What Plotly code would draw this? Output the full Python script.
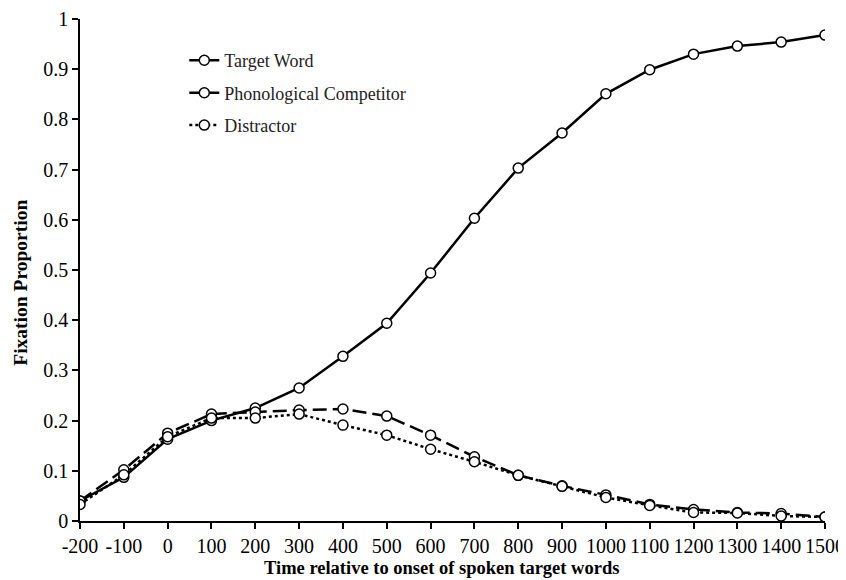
import plotly.graph_objects as go

time_ms = [-200, -100, 0, 100, 200, 300, 400, 500, 600, 700, 800, 900, 1000, 1100, 1200, 1300, 1400, 1500]
target_word = [0.040, 0.087, 0.163, 0.200, 0.225, 0.265, 0.328, 0.394, 0.494, 0.603, 0.703, 0.773, 0.851, 0.899, 0.930, 0.946, 0.954, 0.968]
phon_competitor = [0.040, 0.102, 0.175, 0.213, 0.217, 0.221, 0.223, 0.209, 0.171, 0.128, 0.091, 0.070, 0.052, 0.033, 0.023, 0.017, 0.015, 0.008]
distractor = [0.033, 0.092, 0.168, 0.205, 0.205, 0.213, 0.191, 0.171, 0.143, 0.118, 0.091, 0.069, 0.047, 0.031, 0.017, 0.016, 0.010, 0.008]

series_names = ["Target Word", "Phonological Competitor", "Distractor"]
x_ticks = list(range(-200, 1501, 100))
y_ticks = [0, 0.1, 0.2, 0.3, 0.4, 0.5, 0.6, 0.7, 0.8, 0.9, 1]
y_tick_text = ["0", "0.1", "0.2", "0.3", "0.4", "0.5", "0.6", "0.7", "0.8", "0.9", "1"]
x_title = "Time relative to onset of spoken target words"
y_title = "Fixation Proportion"

FONT = "Liberation Serif"
marker = dict(symbol="circle", size=10, color="white", line=dict(color="black", width=1.5))

fig = go.Figure()
for name, vals, dash, g in zip(series_names, [target_word, phon_competitor, distractor],
                               ["solid", "14px,6px", "dot"], ["a", "b", "c"]):
    fig.add_trace(go.Scatter(x=time_ms, y=vals, name=name, mode="lines+markers",
                             line=dict(color="black", width=2.5, dash=dash),
                             marker=marker, legendgroup=g))

axis_common = dict(showgrid=False, zeroline=False, showline=True, linecolor="black", linewidth=1.5,
                   ticks="outside", ticklen=6, tickwidth=1.5, tickcolor="black",
                   tickfont=dict(size=20, family=FONT, color="black"), automargin=False)

fig.update_layout(
    template="none",
    width=838, height=572,
    margin=dict(l=72, r=21, t=11, b=59),
    paper_bgcolor="white", plot_bgcolor="white",
    font=dict(family=FONT, color="black", size=18),
    showlegend=True,
    legend=dict(x=0.14, y=0.954, xanchor="left", yanchor="top",
                bgcolor="rgba(0,0,0,0)", font=dict(size=18, family=FONT, color="#222"),
                traceorder="grouped", tracegroupgap=6, itemwidth=30),
    xaxis=dict(range=[-200, 1500], tickvals=x_ticks, ticktext=[str(v) for v in x_ticks], **axis_common),
    yaxis=dict(range=[0, 1], tickvals=y_ticks, ticktext=y_tick_text, **axis_common),
    annotations=[
        dict(text="<b>" + x_title + "</b>", xref="paper", yref="paper", x=0.485, y=-0.094,
             xanchor="center", yanchor="middle", showarrow=False,
             font=dict(size=18.5, family=FONT, color="black")),
        dict(text="<b>" + y_title + "</b>", xref="paper", yref="paper", x=-0.081, y=0.474,
             xanchor="center", yanchor="middle", showarrow=False, textangle=-90,
             font=dict(size=19.5, family=FONT, color="black")),
    ],
)

fig.write_html("out.html")
